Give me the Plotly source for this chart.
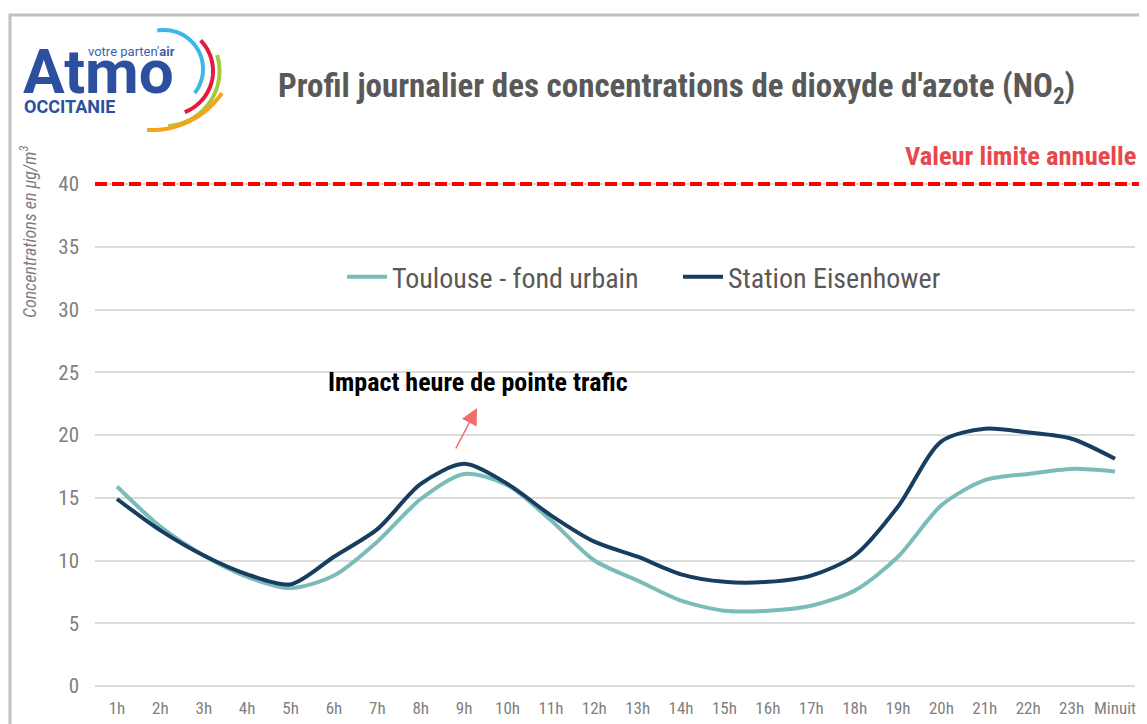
import numpy as np
import plotly.graph_objects as go

hours = ["1h", "2h", "3h", "4h", "5h", "6h", "7h", "8h", "9h", "10h", "11h", "12h",
         "13h", "14h", "15h", "16h", "17h", "18h", "19h", "20h", "21h", "22h", "23h", "Minuit"]
toulouse_fond = [15.9, 12.7, 10.4, 8.7, 7.8, 8.8, 11.5, 14.9, 16.9, 16.0, 13.2, 10.0,
                 8.4, 6.8, 6.0, 6.0, 6.4, 7.6, 10.3, 14.4, 16.4, 16.9, 17.3, 17.1]
eisenhower = [14.9, 12.4, 10.4, 8.9, 8.1, 10.3, 12.5, 16.1, 17.7, 16.1, 13.6, 11.5,
              10.3, 8.9, 8.3, 8.3, 8.8, 10.4, 14.3, 19.5, 20.5, 20.2, 19.7, 18.1]
yticks = [0, 5, 10, 15, 20, 25, 30, 35, 40]
valeur_limite = 40

OFF = 8  # page body margin
W, H = 1147, 724
# plot area in screen pixels: x 95..1135, y 150..690
L, R, T, B = 95 - OFF, W - (1135 - OFF), 150 - OFF, H - (690 - OFF)
PW, PH = W - L - R, H - T - B


def px(x):
    return (x - OFF - L) / PW


def py(y):
    return (H - B - (y - OFF)) / PH


NARROW = "Liberation Sans Narrow, Arial Narrow, Roboto Condensed, Liberation Sans, sans-serif"
TEAL = "#7bbcb9"
NAVY = "#173d60"

xs = list(range(1, len(hours) + 1))

fig = go.Figure()
fig.add_trace(go.Scatter(x=xs, y=toulouse_fond, mode="lines", name="Toulouse - fond urbain",
                         line=dict(color=TEAL, width=4, shape="spline", smoothing=0.8)))
fig.add_trace(go.Scatter(x=xs, y=eisenhower, mode="lines", name="Station Eisenhower",
                         line=dict(color=NAVY, width=4, shape="spline", smoothing=0.8)))

shapes = []
# red dashed limit line
shapes.append(dict(type="line", xref="paper", yref="y", x0=0, x1=1.005, y0=valeur_limite, y1=valeur_limite,
                   line=dict(color="#ff0000", width=4, dash="12px,5px"), layer="above"))
# frame border
shapes.append(dict(type="path", xref="paper", yref="paper",
                   path=f"M {px(1170)} {py(15)} L {px(10)} {py(15)} L {px(10)} {py(750)}",
                   line=dict(color="#c0c0c0", width=3)))


# logo arcs
def arc(cx, cy, r, a0, a1, color):
    t = np.linspace(np.radians(a0), np.radians(a1), 48)
    pts = [(px(cx + r * np.cos(a)), py(cy - r * np.sin(a))) for a in t]
    d = "M " + " L ".join(f"{x:.5f} {y:.5f}" for x, y in pts)
    return dict(type="path", xref="paper", yref="paper", path=d,
                line=dict(color=color, width=4))


shapes.append(arc(164, 69, 39, 100, -38, "#3bb8e8"))
shapes.append(arc(169, 71, 44, 44, -69, "#e31b3f"))
shapes.append(arc(164.5, 71, 55, 17, -86, "#a5c93a"))
shapes.append(arc(151.5, 44.6, 85.5, -34.5, -93, "#f7a21c"))

annotations = []
# logo text
annotations.append(dict(xref="paper", yref="paper", x=px(21), y=py(71), xanchor="left", yanchor="middle",
                        text="<b>Atmo</b>", showarrow=False, height=52,
                        font=dict(family="Roboto, Liberation Sans, sans-serif", size=62, color="#2d4f9f")))
annotations.append(dict(xref="paper", yref="paper", x=px(177), y=py(51), xanchor="right", yanchor="middle",
                        text="votre parten'<b>air</b>", showarrow=False, height=14,
                        font=dict(family="Roboto, Liberation Sans, sans-serif", size=13, color="#3b5fb0")))
annotations.append(dict(xref="paper", yref="paper", x=px(22), y=py(106), xanchor="left", yanchor="middle",
                        text="<b>OCCITANIE</b>", showarrow=False, height=16,
                        font=dict(family="Roboto, Liberation Sans, sans-serif", size=18, color="#2d4f9f")))
# title
annotations.append(dict(xref="paper", yref="paper", x=px(676), y=py(88), xanchor="center", yanchor="middle",
                        text="<b>Profil journalier des concentrations de dioxyde d'azote (NO<sub>2</sub>)</b>",
                        showarrow=False, font=dict(family=NARROW, size=33, color="#595959")))
# limit label
annotations.append(dict(xref="paper", yref="paper", x=px(1138), y=py(156), xanchor="right", yanchor="middle",
                        text="<b>Valeur limite annuelle</b>", showarrow=False,
                        font=dict(family=NARROW, size=26.5, color="#e8484c")))
# y axis title
annotations.append(dict(xref="paper", yref="paper", x=px(28), y=py(232), xanchor="center", yanchor="middle",
                        text="<i>Concentrations en µg/m<sup>3</sup></i>", textangle=-90, showarrow=False,
                        font=dict(family=NARROW, size=18, color="#7f7f7f")))
# traffic annotation
annotations.append(dict(xref="paper", yref="paper", x=px(478), y=py(382), xanchor="center", yanchor="middle",
                        text="<b>Impact heure de pointe trafic</b>", showarrow=False,
                        font=dict(family=NARROW, size=26, color="#000000")))
annotations.append(dict(xref="paper", yref="paper", x=px(477), y=py(408), ax=-22, ay=42,
                        axref="pixel", ayref="pixel", text="", showarrow=True,
                        arrowhead=2, arrowsize=2.2, arrowwidth=1.5, arrowcolor="#ee6e6e"))

fig.update_layout(
    width=W, height=H,
    margin=dict(l=L, r=R, t=T, b=B, pad=0),
    paper_bgcolor="white", plot_bgcolor="white",
    showlegend=True,
    legend=dict(orientation="h", x=px(342), y=py(277), xanchor="left", yanchor="middle",
                font=dict(family=NARROW, size=28, color="#595959"), bgcolor="rgba(0,0,0,0)",
                itemwidth=40, tracegroupgap=0, entrywidth=281),
    shapes=shapes,
    annotations=annotations,
    xaxis=dict(range=[1 - 22 / 43.39, 24 + 20 / 43.39], tickmode="array", tickvals=xs, ticktext=hours,
               showgrid=False, zeroline=False, showline=False, ticks="", ticklabelstandoff=6,
               tickfont=dict(family=NARROW, size=17, color="#7f7f7f"), fixedrange=True),
    yaxis=dict(range=[-4 / 12.55, 536 / 12.55], tickmode="array", tickvals=yticks,
               showgrid=True, gridcolor="#dcdcdc", gridwidth=1.5, zeroline=False, showline=False, ticks="",
               ticklabelstandoff=15,
               tickfont=dict(family=NARROW, size=21, color="#7f7f7f"), fixedrange=True),
)

fig.write_html("out.html")
